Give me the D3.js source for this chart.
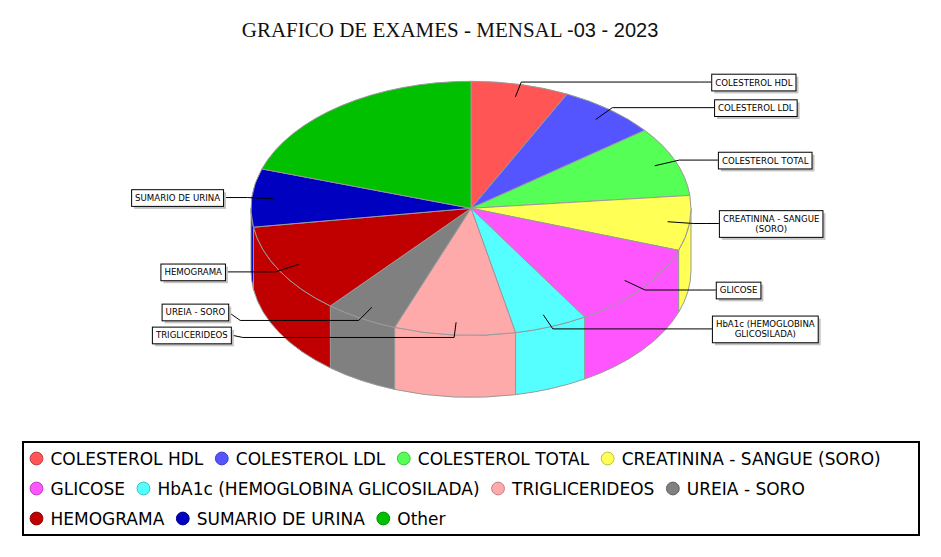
<!DOCTYPE html>
<html>
<head>
<meta charset="utf-8">
<script src="https://cdn.jsdelivr.net/npm/d3@7/dist/d3.min.js"></script>
<style>
  body { margin: 0; background: #fff; }
  svg { display: block; }
</style>
</head>
<body>
<svg id="chart"></svg>
<script>
// dados do grafico (percentual estimado de cada exame)
const exames = [
  "COLESTEROL HDL", "COLESTEROL LDL", "COLESTEROL TOTAL", "CREATININA - SANGUE (SORO)",
  "GLICOSE", "HbA1c (HEMOGLOBINA GLICOSILADA)", "TRIGLICERIDEOS", "UREIA - SORO",
  "HEMOGRAMA", "SUMARIO DE URINA", "Other"
];
const rotulos = [
  ["COLESTEROL HDL"], ["COLESTEROL LDL"], ["COLESTEROL TOTAL"], ["CREATININA - SANGUE", "(SORO)"],
  ["GLICOSE"], ["HbA1c (HEMOGLOBINA", "GLICOSILADA)"], ["TRIGLICERIDEOS"], ["UREIA - SORO"],
  ["HEMOGRAMA"], ["SUMARIO DE URINA"]
];
const valores = [7.2, 7.3, 8.9, 7.0, 11.0, 5.4, 8.9, 5.4, 11.6, 7.4, 20.0];
const cores = ["#ff5555", "#5555ff", "#55ff55", "#ffff55", "#ff55ff", "#55ffff",
               "#ffaaaa", "#808080", "#c00000", "#0000c0", "#00c000"];

let width = 941;
let height = 557;
let svg = d3.select("#chart").attr("width", width).attr("height", height);

// titulo
let titulo = svg.append("text")
  .attr("x", 450).attr("y", 37)
  .attr("text-anchor", "middle")
  .style("font-size", "21px")
  .style("fill", "#111");
titulo.append("tspan").style("font-family", "'Liberation Serif', serif").text("GRAFICO DE EXAMES - MENSAL ");
titulo.append("tspan").style("font-family", "'Liberation Sans', sans-serif").style("font-size", "20px").text("-03 - 2023");

// geometria da pizza 3D
let cx = 471, cy = 208.3, rx = 220, ry = 127, depth = 62;
function pt(a, r) {
  // a = angulo do d3.pie (0 no topo, sentido horario)
  let t = Math.PI / 2 - a;
  return [cx + rx * r * Math.cos(t), cy - ry * r * Math.sin(t)];
}

let pie = d3.pie().sort(null).value(d => d)
  .startAngle(0).endAngle(2 * Math.PI);
let arcs = pie(valores);

let g = svg.append("g");

// faces laterais (somente metade frontal)
arcs.forEach((d, i) => {
  let s = Math.max(d.startAngle, Math.PI / 2);
  let e = Math.min(d.endAngle, 3 * Math.PI / 2);
  if (e <= s) return;
  let p0 = pt(s, 1), p1 = pt(e, 1);
  let dstr = `M${p0[0]},${p0[1]} A${rx},${ry} 0 0 1 ${p1[0]},${p1[1]} ` +
             `L${p1[0]},${p1[1] + depth} A${rx},${ry} 0 0 0 ${p0[0]},${p0[1] + depth} Z`;
  g.append("path")
    .attr("d", dstr)
    .attr("fill", cores[i])
    .attr("stroke", "#999")
    .attr("stroke-width", 1);
});

// faces superiores
arcs.forEach((d, i) => {
  let p0 = pt(d.startAngle, 1), p1 = pt(d.endAngle, 1);
  let large = (d.endAngle - d.startAngle) > Math.PI ? 1 : 0;
  let dstr = `M${cx},${cy} L${p0[0]},${p0[1]} A${rx},${ry} 0 ${large} 1 ${p1[0]},${p1[1]} Z`;
  g.append("path")
    .attr("d", dstr)
    .attr("fill", cores[i])
    .attr("stroke", "#999")
    .attr("stroke-width", 1)
    .attr("stroke-linejoin", "round");
});

// rotulos com linhas guia
let fsLab = 8.6;
let labs = arcs.slice(0, rotulos.length).map((d, i) => {
  let mid = (d.startAngle + d.endAngle) / 2;
  let anc = pt(mid, 0.9);
  let elb = pt(mid, 1.02);
  let right = Math.sin(mid) >= 0;
  return { i: i, anc: anc, elb: elb, right: right, y: elb[1], lines: rotulos[i] };
});

// evita sobreposicao do lado esquerdo (empurra para cima)
let esq = labs.filter(l => !l.right).sort((a, b) => b.y - a.y);
for (let k = 1; k < esq.length; k++) {
  if (esq[k - 1].y - esq[k].y < 23) {
    esq[k - 1].y -= 2.5;
    esq[k].y = esq[k - 1].y - 23;
  }
}

let lg = svg.append("g");
labs.forEach(l => {
  let dy = l.y - cy;
  let off = 248 * Math.sqrt(1 - Math.pow(dy / (4 * ry), 2));
  let tmp = lg.append("g");
  let txt = tmp.append("text")
    .style("font-family", "'DejaVu Sans', sans-serif")
    .style("font-size", fsLab + "px")
    .attr("text-anchor", "middle");
  l.lines.forEach((s, k) => txt.append("tspan").attr("x", 0).attr("dy", k == 0 ? 0 : 10).text(s));
  let tw = d3.max(txt.selectAll("tspan").nodes(), n => n.getComputedTextLength());
  let bw = tw + 7;
  let bh = l.lines.length == 1 ? 16.7 : 26.7;
  let edgeX = l.right ? cx + off : cx - off;
  let bx = l.right ? edgeX : edgeX - bw;
  let by = l.y - bh / 2;

  let knee = l.right ? edgeX - 12 : edgeX + 12;
  let pts = [l.anc, l.elb, [knee, l.elb[1]], [edgeX, l.y]];
  lg.insert("path", ":first-child")
    .attr("d", d3.line()(pts))
    .attr("fill", "none")
    .attr("stroke", "#000")
    .attr("stroke-width", 1);

  tmp.insert("rect", "text")
    .attr("x", bx + 3).attr("y", by + 3)
    .attr("width", bw).attr("height", bh)
    .attr("fill", "#c4c4c4");
  tmp.insert("rect", "text")
    .attr("x", bx + 0.5).attr("y", by + 0.5)
    .attr("width", bw).attr("height", bh)
    .attr("fill", "#fff")
    .attr("stroke", "#000")
    .attr("stroke-width", 1);
  let ty = by + (l.lines.length == 1 ? 11.8 : 11.6);
  txt.attr("transform", `translate(${bx + 0.5 + bw / 2}, ${ty})`);
});

// legenda
let legX0 = 23, legX1 = 919, legY0 = 442, legY1 = 535;
svg.append("rect")
  .attr("x", legX0).attr("y", legY0)
  .attr("width", legX1 - legX0).attr("height", legY1 - legY0)
  .attr("fill", "#fff")
  .attr("stroke", "#000")
  .attr("stroke-width", 2);

let leg = svg.append("g");
let lx = 29.5, row = 0;
let rowY = [458.5, 488.5, 518.5];
exames.forEach((nome, i) => {
  let it = leg.append("g");
  let t = it.append("text")
    .attr("x", 21)
    .attr("y", 6.2)
    .style("font-family", "'DejaVu Sans', sans-serif")
    .style("font-size", "17px")
    .style("fill", "#000")
    .text(nome);
  let w = 21 + t.node().getComputedTextLength();
  if (lx + w > legX1 - 4) { row++; lx = 29.5; }
  it.attr("transform", `translate(${lx}, ${rowY[row]})`);
  it.insert("circle", "text")
    .attr("cx", 7).attr("cy", 0).attr("r", 6.4)
    .attr("fill", cores[i])
    .attr("stroke", d3.color(cores[i]).darker(0.8))
    .attr("stroke-width", 1);
  lx += w + 11.5;
});
</script>
</body>
</html>
